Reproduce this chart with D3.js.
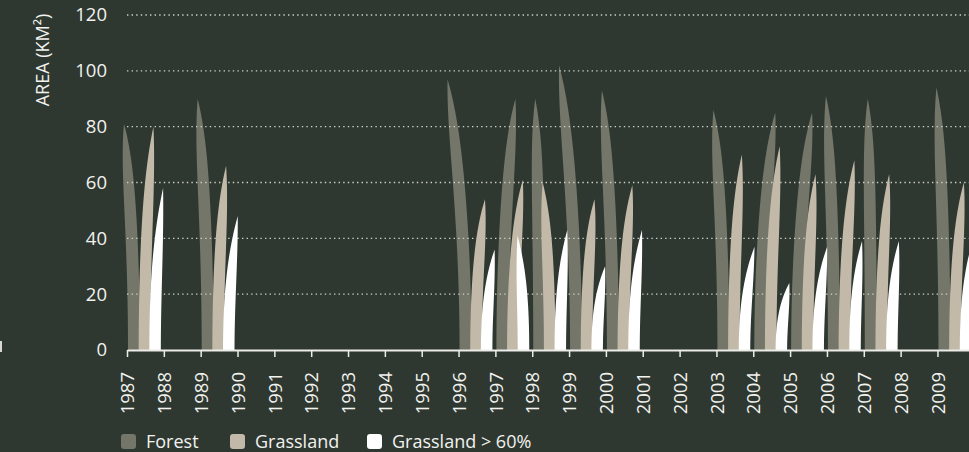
<!DOCTYPE html>
<html>
<head>
<meta charset="utf-8">
<script src="https://cdn.jsdelivr.net/npm/d3@7"></script>
<style>
  body { margin: 0; background: #2e3831; overflow: hidden; }
  svg { display: block; font-family: "Open Sans", sans-serif; }
</style>
</head>
<body>
<svg class="svg"></svg>
<script>
// years shown on the axis, and the years that actually have data
const tickYears = d3.range(1987, 2010);
const dataYears = [1987, 1989, 1996, 1997, 1998, 1999, 2000, 2003, 2004, 2005, 2006, 2007, 2009];

// area in km2
const forest      = [81, 90, 97, 90, 90, 102, 93, 86, 85, 85, 91, 90, 94];
const grassland   = [80, 66, 54, 61, 60, 54, 59, 70, 73, 63, 68, 63, 60];
const grassland60 = [58, 48, 36, 41, 43, 30, 43, 37, 24, 37, 39, 39, 40];

const seriesNames = ['Forest', 'Grassland', 'Grassland > 60%'];
const yTicks = [0, 20, 40, 60, 80, 100, 120];

// how far each blade tip bends sideways (px), purely decorative
const bendForest    = [-10, -10, -18, 13, -4, -17, -11, -10, 15, 15, -8, -3, -8];
const bendGrass     = [9, 8, 9, 10, -7, 8, 9, 8, 9, 8, 10, 8, 9];
const bendGrass60   = [8, 9, 8, -6, 7, 8, 8, 10, 8, 9, 7, 7, 8];

const colors = ['#737668', '#c2b9a8', '#ffffff'];

const width = 969;
const height = 452;

const svg = d3.select('.svg')
  .attr('width', width)
  .attr('height', height);

svg.append('rect')
  .attr('width', width)
  .attr('height', height)
  .attr('fill', '#2e3831');

const x = d3.scaleLinear().domain([1987, 2010]).range([127, 974.3]);
const y = d3.scaleLinear().domain([0, 120]).range([350, 15]);
const sub = d3.scaleBand().domain(seriesNames).range([1, 33]);

const series = [
  { name: seriesNames[0], values: forest, bend: bendForest, color: colors[0], w: 12, taper: 7 },
  { name: seriesNames[1], values: grassland, bend: bendGrass, color: colors[1], w: 11.5, taper: 5 },
  { name: seriesNames[2], values: grassland60, bend: bendGrass60, color: colors[2], w: 11.5, taper: 3.3 }
];

// a grass blade: bent centreline, tapering to a point
function bladePath(x0, w, yb, yt, bend, taper) {
  const cx = x0 + w / 2;
  const h = yb - yt;
  const p0 = [cx, yb], p1 = [cx, yb - h * 0.5], p2 = [cx + bend, yt];
  const left = [], right = [];
  const n = 50;
  for (let i = 0; i <= n; i++) {
    const t = i / n;
    const bx = (1 - t) * (1 - t) * p0[0] + 2 * t * (1 - t) * p1[0] + t * t * p2[0];
    const by = (1 - t) * (1 - t) * p0[1] + 2 * t * (1 - t) * p1[1] + t * t * p2[1];
    const dx = 2 * (1 - t) * (p1[0] - p0[0]) + 2 * t * (p2[0] - p1[0]);
    const dy = 2 * (1 - t) * (p1[1] - p0[1]) + 2 * t * (p2[1] - p1[1]);
    const len = Math.hypot(dx, dy) || 1;
    const nx = -dy / len, ny = dx / len;
    const hw = (w / 2) * (1 - Math.pow(t, taper));
    right.push([bx + nx * hw, by + ny * hw]);
    left.push([bx - nx * hw, by - ny * hw]);
  }
  return d3.line()(left.concat(right.reverse())) + 'Z';
}

const grid = svg.append('g').attr('class', 'grid');

function drawSeries(s) {
  svg.append('g')
    .selectAll('path')
    .data(dataYears.map((yr, i) => ({ yr, v: s.values[i], bend: s.bend[i] })))
    .join('path')
    .attr('fill', s.color)
    .attr('d', d => bladePath(x(d.yr) + sub(s.name), s.w, y(0), y(d.v), d.bend, s.taper));
}

// forest sits behind the grid dots, grassland in front
drawSeries(series[0]);

grid.raise();
grid.selectAll('line')
  .data(yTicks.filter(d => d > 0))
  .join('line')
  .attr('x1', x(1987))
  .attr('x2', width)
  .attr('y1', d => y(d))
  .attr('y2', d => y(d))
  .attr('stroke', '#cfcfc6')
  .attr('stroke-width', 1.4)
  .attr('stroke-dasharray', '1.4 3.2');

drawSeries(series[1]);
drawSeries(series[2]);

// y labels
svg.append('g')
  .selectAll('text')
  .data(yTicks)
  .join('text')
  .attr('x', 107)
  .attr('y', d => y(d))
  .attr('dy', '0.35em')
  .attr('text-anchor', 'end')
  .attr('fill', '#f2f2ee')
  .style('font-size', '18.5px')
  .text(d => d);

svg.append('text')
  .attr('transform', 'translate(49,60) rotate(-90)')
  .attr('text-anchor', 'middle')
  .attr('fill', '#f2f2ee')
  .style('font-size', '18px')
  .text('AREA (KM²)');

// x axis
const xAxis = svg.append('g')
  .attr('transform', `translate(0,${y(0)})`)
  .call(d3.axisBottom(x).tickValues(tickYears).tickFormat(d3.format('d')).tickSize(7).tickSizeOuter(0));

xAxis.select('.domain').attr('stroke', '#ecece8').attr('stroke-width', 2);
xAxis.selectAll('.tick line').attr('stroke', '#ecece8').attr('stroke-width', 1.5);
xAxis.selectAll('.tick text')
  .attr('transform', 'rotate(-90)')
  .attr('x', -22)
  .attr('y', 0)
  .attr('dy', '0.36em')
  .style('text-anchor', 'end')
  .style('font-size', '18.5px')
  .style('font-family', '"Open Sans", sans-serif')
  .attr('fill', '#f2f2ee');

// small leftover mark at the bottom left
svg.append('rect')
  .attr('x', 0).attr('y', 341).attr('width', 2).attr('height', 11)
  .attr('fill', '#d8d8d2');

// legend
const legendX = [121, 230, 367];
const legend = svg.append('g')
  .selectAll('g')
  .data(series)
  .join('g')
  .attr('transform', (d, i) => `translate(${legendX[i]},434)`);

legend.append('rect')
  .attr('width', 15)
  .attr('height', 15)
  .attr('rx', 3)
  .attr('fill', d => d.color);

legend.append('text')
  .attr('x', 25)
  .attr('y', 14)
  .attr('fill', '#f2f2ee')
  .style('font-size', '18px')
  .text(d => d.name);
</script>
</body>
</html>
